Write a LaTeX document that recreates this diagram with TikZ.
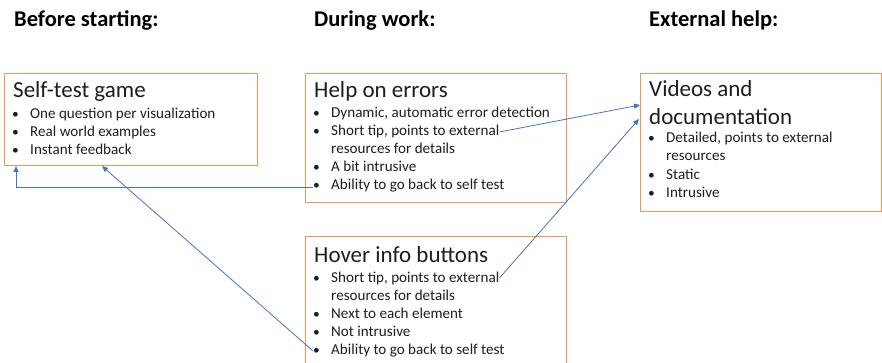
\documentclass[tikz,border=0pt]{standalone}
\usepackage{fontspec}
\setmainfont{Carlito}
\usetikzlibrary{arrows.meta}
\definecolor{boxorange}{RGB}{240,150,90}
\definecolor{arrowblue}{RGB}{68,114,196}
\definecolor{txt}{RGB}{30,30,30}
\tikzset{
  box/.style={draw=boxorange, line width=1.2pt, anchor=north west, inner sep=0pt},
  head/.style={anchor=base west, inner sep=0pt, font=\fontsize{22.5}{26}\selectfont\bfseries},
  ttl/.style={anchor=base west, inner sep=0pt, font=\fontsize{23}{26}\selectfont, text=txt},
  itm/.style={anchor=base west, inner sep=0pt, font=\fontsize{15.1}{18}\selectfont, text=txt},
  dot/.style={anchor=base, inner sep=0pt, font=\fontsize{13.5}{16}\selectfont, text=txt},
  link/.style={draw=arrowblue, line width=0.8pt, -{Triangle[length=6pt,width=5pt]}},
}
\newcommand\bitem[4]{\node[dot] (#1d) at (#2-14.5,#3) {\textbullet}; \node[itm] (#1) at (#2,#3) {#4};}
\newcommand\citem[4]{\node[itm] (#1) at (#2,#3) {#4};}
\begin{document}
\begin{tikzpicture}[x=1pt,y=-1pt]
\useasboundingbox (0,0) rectangle (882,363);
\clip (0,0) rectangle (882,363);
% headings
\node[head] (h1) at (14,27) {Before starting:};
\node[head] (h2) at (314,27) {During work:};
\node[head] (h3) at (649,27) {External help:};
% boxes
\node[box, minimum width=253pt, minimum height=92pt] (b1) at (4,73) {};
\node[box, minimum width=261pt, minimum height=129pt] (b2) at (305,73) {};
\node[box, minimum width=241pt, minimum height=138pt] (b3) at (640,73) {};
\node[box, minimum width=261pt, minimum height=140pt] (b4) at (305,236) {};
% box 1
\node[ttl] (t1) at (13,98) {Self-test game};
\bitem{s1}{30}{119}{One question per visualization}
\bitem{s2}{30}{137}{Real world examples}
\bitem{s3}{30}{155}{Instant feedback}
% box 2
\node[ttl] (t2) at (314,98) {Help on errors};
\bitem{e1}{331}{118}{Dynamic, automatic error detection}
\bitem{e2}{331}{136}{Short tip, points to external}
\citem{e3}{331}{154}{resources for details}
\bitem{e4}{331}{172}{A bit intrusive}
\bitem{e5}{331}{190}{Ability to go back to self test}
% box 3
\node[ttl] (t3a) at (649,97) {Videos and};
\node[ttl] (t3b) at (649,125) {documentation};
\bitem{v1}{666}{143}{Detailed, points to external}
\citem{v2}{666}{161}{resources}
\bitem{v3}{666}{180}{Static}
\bitem{v4}{666}{198}{Intrusive}
% box 4
\node[ttl] (t4) at (314,262) {Hover info buttons};
\bitem{o1}{331}{282}{Short tip, points to external}
\citem{o2}{331}{300}{resources for details}
\bitem{o3}{331}{318}{Next to each element}
\bitem{o4}{331}{336}{Not intrusive}
\bitem{o5}{331}{354}{Ability to go back to self test}
% arrow targets
\coordinate (c1) at (16,166);
\coordinate (c2) at (102,166);
\coordinate (c3) at (640,105);
\coordinate (c4) at (639,119);
% connectors
\draw[link] (e5d.west) -| (c1);
\draw[link] (o5d.west) -- (c2);
\draw[link] (e2.east) -- (c3);
\draw[link] (o1.east) -- (c4);
\end{tikzpicture}
\end{document}
